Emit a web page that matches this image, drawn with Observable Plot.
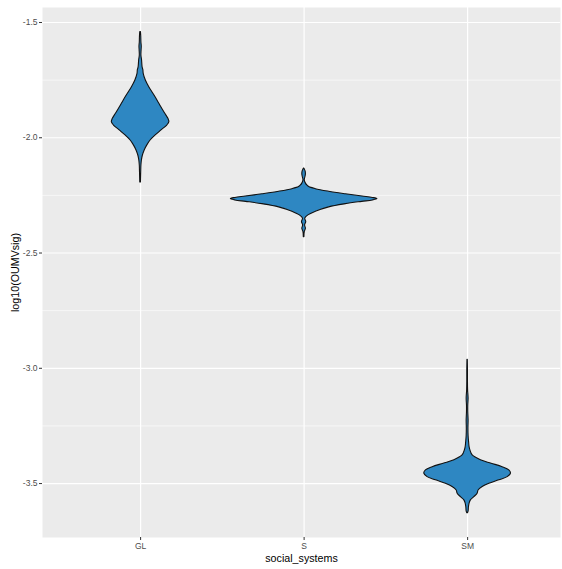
<!DOCTYPE html>
<html>
<head>
<meta charset="utf-8">
<script src="https://cdn.jsdelivr.net/npm/d3@7"></script>
<script src="https://cdn.jsdelivr.net/npm/@observablehq/plot@0.6"></script>
<style>
  html, body { margin: 0; padding: 0; background: #ffffff; }
  #chart { width: 562px; height: 569px; }
</style>
</head>
<body>
<div id="chart"></div>
<script>
// Categories and tick labels
const categories = ["GL", "S", "SM"];
const yTicks = [-3.5, -3.0, -2.5, -2.0, -1.5];
const yMinor = [-3.25, -2.75, -2.25, -1.75];
const xTitle = "social_systems";
const yTitle = "log10(OUMVsig)";

// Violin profiles: log10(OUMVsig) value and half-width (category units)
const glY = [-1.542, -1.561, -1.587, -1.604, -1.621, -1.643, -1.665, -1.694, -1.708, -1.723, -1.752, -1.781, -1.809, -1.838, -1.867, -1.896, -1.918, -1.932, -1.947, -1.968, -1.990, -2.012, -2.033, -2.055, -2.077, -2.098, -2.120, -2.142, -2.168, -2.194];
const glW = [0.002, 0.004, 0.005, 0.007, 0.006, 0.005, 0.009, 0.012, 0.017, 0.019, 0.032, 0.053, 0.078, 0.103, 0.126, 0.151, 0.170, 0.176, 0.163, 0.128, 0.092, 0.061, 0.041, 0.025, 0.014, 0.008, 0.005, 0.004, 0.003, 0.002];

const sY = [-2.134, -2.146, -2.157, -2.168, -2.185, -2.200, -2.208, -2.214, -2.223, -2.234, -2.245, -2.255, -2.261, -2.266, -2.272, -2.278, -2.288, -2.302, -2.321, -2.338, -2.351, -2.366, -2.380, -2.395, -2.409, -2.431];
const sW = [0.002, 0.009, 0.011, 0.009, 0.004, 0.012, 0.021, 0.031, 0.072, 0.153, 0.255, 0.357, 0.420, 0.448, 0.420, 0.355, 0.255, 0.153, 0.072, 0.024, 0.007, 0.013, 0.006, 0.011, 0.004, 0.002];

const smY = [-2.963, -3.009, -3.053, -3.096, -3.131, -3.161, -3.191, -3.226, -3.261, -3.295, -3.321, -3.342, -3.356, -3.378, -3.399, -3.414, -3.429, -3.443, -3.457, -3.472, -3.486, -3.501, -3.515, -3.530, -3.544, -3.559, -3.573, -3.587, -3.603, -3.621, -3.629];
const smW = [0.001, 0.002, 0.002, 0.003, 0.006, 0.004, 0.004, 0.006, 0.005, 0.006, 0.009, 0.012, 0.017, 0.031, 0.081, 0.147, 0.214, 0.255, 0.265, 0.245, 0.194, 0.133, 0.092, 0.067, 0.061, 0.041, 0.020, 0.012, 0.008, 0.006, 0.002];

const profiles = [[glY, glW], [sY, sW], [smY, smW]];
const rows = [];
categories.forEach((cat, i) => {
  const [ys, ws] = profiles[i];
  ys.forEach((y, j) => rows.push({cat, pos: i + 1, y, w: ws[j]}));
});
const positions = categories.map((c, i) => i + 1);

const font = "'Liberation Sans', Arial, Helvetica, sans-serif";

const chart = Plot.plot({
  width: 562,
  height: 569,
  marginLeft: 42,
  marginRight: 2,
  marginTop: 7,
  marginBottom: 32,
  style: {fontFamily: font, background: "#ffffff", overflow: "visible"},
  x: {domain: [0.4, 3.568]},
  y: {domain: [-3.734, -1.435]},
  marks: [
    Plot.frame({fill: "#ebebeb", stroke: null}),
    Plot.ruleY(yMinor, {stroke: "#ffffff", strokeWidth: 0.6}),
    Plot.ruleY(yTicks, {stroke: "#ffffff", strokeWidth: 1.2}),
    Plot.ruleX(positions, {stroke: "#ffffff", strokeWidth: 1.2}),
    Plot.areaX(rows, {
      y: "y",
      x1: d => d.pos - d.w,
      x2: d => d.pos + d.w,
      z: "cat",
      fill: "#2e87c2",
      stroke: "#111111",
      strokeWidth: 1.1,
      curve: "catmull-rom"
    }),
    Plot.axisY({
      ticks: yTicks,
      tickFormat: d => d.toFixed(1),
      tickSize: 3,
      tickPadding: 2,
      fontSize: 8.5,
      color: "#4d4d4d",
      stroke: "#333333",
      label: null
    }),
    Plot.axisX({
      ticks: positions,
      tickFormat: d => categories[d - 1],
      tickSize: 3,
      tickPadding: 2,
      fontSize: 8.5,
      color: "#4d4d4d",
      stroke: "#333333",
      label: null
    }),
    Plot.text([yTitle], {
      frameAnchor: "left",
      dx: -27,
      rotate: -90,
      textAnchor: "middle",
      fontSize: 10.7,
      fill: "#000000"
    }),
    Plot.text([xTitle], {
      frameAnchor: "bottom",
      dy: 21,
      lineAnchor: "middle",
      textAnchor: "middle",
      fontSize: 10.7,
      fill: "#000000"
    })
  ]
});
document.getElementById("chart").appendChild(chart);
</script>
</body>
</html>
